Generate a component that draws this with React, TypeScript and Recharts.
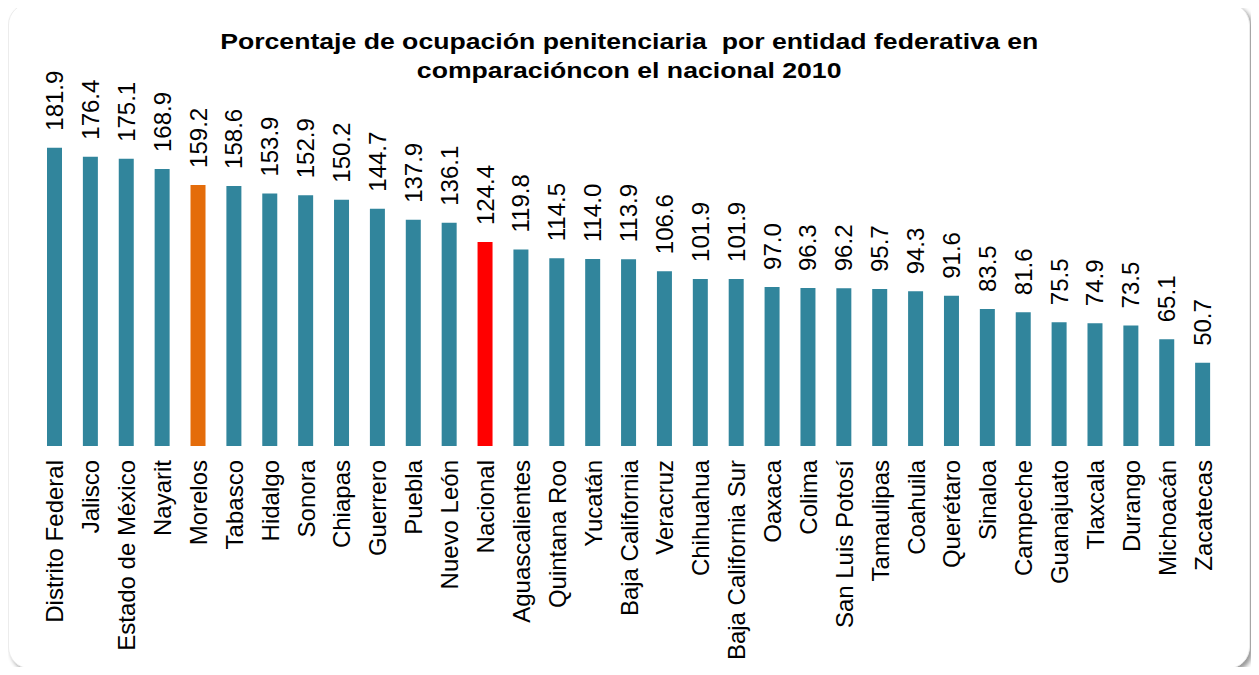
import { BarChart, Bar, XAxis, YAxis, Cell, LabelList } from "recharts";

const estados = [
  "Distrito Federal", "Jalisco", "Estado de México", "Nayarit", "Morelos", "Tabasco",
  "Hidalgo", "Sonora", "Chiapas", "Guerrero", "Puebla", "Nuevo León", "Nacional",
  "Aguascalientes", "Quintana Roo", "Yucatán", "Baja California", "Veracruz",
  "Chihuahua", "Baja California Sur", "Oaxaca", "Colima", "San Luis Potosí",
  "Tamaulipas", "Coahuila", "Querétaro", "Sinaloa", "Campeche", "Guanajuato",
  "Tlaxcala", "Durango", "Michoacán", "Zacatecas",
];

const ocupacion = [
  181.9, 176.4, 175.1, 168.9, 159.2, 158.6, 153.9, 152.9, 150.2, 144.7, 137.9, 136.1,
  124.4, 119.8, 114.5, 114.0, 113.9, 106.6, 101.9, 101.9, 97.0, 96.3, 96.2, 95.7,
  94.3, 91.6, 83.5, 81.6, 75.5, 74.9, 73.5, 65.1, 50.7,
];

const resaltados: Record<string, string> = {
  Morelos: "#E46C0A",
  Nacional: "#FF0000",
};

const data = estados.map((e, i) => ({ estado: e, valor: ocupacion[i] }));

const font = "'Liberation Sans', Arial, sans-serif";

function EstadoTick(props: any) {
  const { x, y, payload } = props;
  return (
    <text
      x={0}
      y={0}
      transform={`translate(${x},${y + 6}) rotate(-90)`}
      textAnchor="end"
      dominantBaseline="central"
      fontSize={24}
      fontFamily={font}
      fill="#000"
    >
      {payload.value}
    </text>
  );
}

function ValorLabel(props: any) {
  const { x, y, width, value } = props;
  const cx = x + width / 2;
  return (
    <text
      x={0}
      y={0}
      transform={`translate(${cx},${y - 17}) rotate(-90)`}
      textAnchor="start"
      dominantBaseline="central"
      fontSize={24}
      fontFamily={font}
      fill="#000"
    >
      {Number(value).toFixed(1)}
    </text>
  );
}

export default function App() {
  return (
    <div style={{ margin: -8, width: 1259, height: 675, background: "#fff", position: "relative" }}>
      <div
        style={{
          position: "absolute",
          left: 8,
          top: 3,
          width: 1240,
          height: 664,
          borderRadius: 22,
          background: "#fff",
          border: "1px solid #ececec",
          boxShadow: "3px 3px 4px rgba(0,0,0,0.4)",
        }}
      />
      <div
        style={{
          position: "absolute",
          left: 0,
          top: 27,
          width: 1259,
          textAlign: "center",
          fontFamily: font,
          fontWeight: "bold",
          fontSize: 22,
          lineHeight: "29px",
          color: "#000",
          transform: "scaleX(1.21)",
          transformOrigin: "631px 0",
        }}
      >
        Porcentaje de ocupación penitenciaria&nbsp; por entidad federativa en
        <br />
        comparacióncon el nacional 2010
      </div>
      <div style={{ position: "absolute", left: 0, top: 0 }}>
        <BarChart
          width={1259}
          height={675}
          data={data}
          margin={{ top: 118, bottom: 0, left: 37, right: 38 }}
          barCategoryGap={0}
        >
          <XAxis
            dataKey="estado"
            interval={0}
            tickLine={false}
            axisLine={false}
            tick={<EstadoTick />}
            height={229}
          />
          <YAxis hide domain={[0, 200]} />
          <Bar dataKey="valor" barSize={15} isAnimationActive={false}>
            {data.map((d) => (
              <Cell key={d.estado} fill={resaltados[d.estado] ?? "#31859C"} />
            ))}
            <LabelList dataKey="valor" content={<ValorLabel />} />
          </Bar>
        </BarChart>
      </div>
    </div>
  );
}
